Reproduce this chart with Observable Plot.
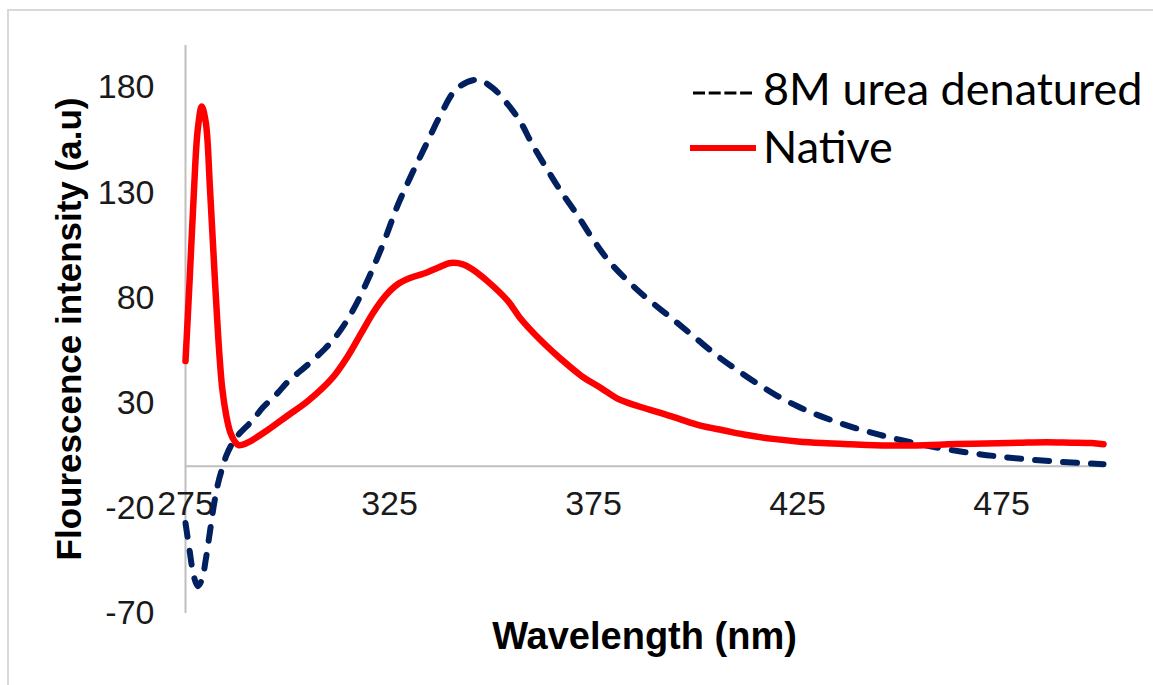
<!DOCTYPE html>
<html>
<head>
<meta charset="utf-8">
<script src="https://cdn.jsdelivr.net/npm/d3@7"></script>
<script src="https://cdn.jsdelivr.net/npm/@observablehq/plot@0.6"></script>
<style>
  html, body { margin: 0; padding: 0; background: #fff; overflow: hidden; width: 1153px; height: 685px; }
  #wrap { position: relative; width: 1153px; height: 685px; overflow: hidden; }
  #border { position: absolute; left: 7px; top: 9px; width: 1200px; height: 800px; border: 2px solid #d9d9d9; }
  #chart { position: absolute; left: 0; top: 0; }
</style>
</head>
<body>
<div id="wrap"><div id="border"></div><div id="chart"></div></div>
<script>
// ---- data ----
const seriesNames = ["8M urea denatured", "Native"];
const xTitle = "Wavelength (nm)";
const yTitle = "Flourescence intensity (a.u)";
const xTicks = [275, 325, 375, 425, 475];
const yTicks = [-70, -20, 30, 80, 130, 180];

const nativeWl = [275,276,277,278,279,280,281,282,283,284,285,286,287,288,
  290,295,300,305,311,315,318,321,324,327,330,334,337,340,343,345,349,354,357,362,
  367,372,377,381,386,391,396,401,407,413,419,425,431,438,444,450,456,462,468,474,
  480,486,492,497,500];
const nativeVal = [50,88,128,160,171,163,132,96,62,37,24,16,12,10,
  11,17,24,31,42,53,63,73,81,86.5,89.5,92,94.5,96.6,96,94,88,78.6,70.5,60,
  51,43,37,32,28.5,25.6,22.5,19.4,17,14.7,13,11.8,11,10.4,10,9.8,10,10.4,10.7,10.9,
  11.2,11.4,11.2,11,10.5];

const denatWl = [275,276,277,278,279,280,281,282,283,284,285,286.5,288,291.5,294,297.5,
  300,303,306,309,312,316,320,323.5,327,330.5,334,337.5,341.5,346.5,350.5,354,357,360,
  363.5,367,371,375,379,384,388,395,400,405,410,415,420,425,430,435,440,445,450,455,
  460,465,470,475,480,485,490,495,500];
const denatVal = [-27,-40,-52,-57,-54,-44,-31,-18,-8,-1,5,11,15,22,28,34.6,
  40,45,50,55.5,62,74,90,106,124,139,153,167,179.5,183.7,179.5,172,164,153,
  141.6,130.7,119.5,107.5,97,87,80,69,61,53,46,39.5,33.5,28.5,24.3,20.8,17.7,15,12.6,10.5,
  8.6,7,5.6,4.5,3.5,2.7,2,1.5,1];

const xDomain = [275, 500];
const yDomain = [-70, 200];

// ---- tables built from the arrays ----
const nativeRows = nativeWl.map((w, i) => ({wl: w, v: nativeVal[i]}));
const denatRows = denatWl.map((w, i) => ({wl: w, v: denatVal[i]}));

const W = 1153, H = 685;
const sans = "'Liberation Sans', Arial, sans-serif";

const chart = Plot.plot({
  width: W, height: H,
  marginLeft: 185, marginRight: 50, marginTop: 45, marginBottom: 72,
  style: {background: "transparent", fontFamily: sans, overflow: "visible"},
  x: {domain: xDomain, axis: null},
  y: {domain: yDomain, axis: null},
  marks: [
    Plot.ruleX([xDomain[0]], {stroke: "#bfbfbf", strokeWidth: 2}),
    Plot.ruleY([0], {stroke: "#bfbfbf", strokeWidth: 2}),
    Plot.axisY(yTicks, {anchor: "left", tickSize: 0, tickPadding: 31, fontSize: 34,
      fill: "#1a1a1a", label: null, tickFormat: d => String(d)}),
    Plot.text(xTicks, {x: d => d, y: 0, dy: 38, fontSize: 34, fill: "#1a1a1a", text: d => String(d)}),
    Plot.line(denatRows, {x: "wl", y: "v", stroke: "#002060", strokeWidth: 6,
      strokeDasharray: "14,14", strokeLinecap: "round", strokeLinejoin: "round", curve: "catmull-rom"}),
    Plot.line(nativeRows, {x: "wl", y: "v", stroke: "#ff0000", strokeWidth: 6.5,
      strokeLinecap: "round", strokeLinejoin: "round", curve: "catmull-rom"}),
    Plot.text([xTitle], {frameAnchor: "bottom", dy: 35, fontSize: 38, fontWeight: "bold", fill: "#000"})
  ]
});
document.getElementById("chart").appendChild(chart);

// ---- overlay: y title and legend ----
const ov = d3.select("#wrap").append("svg")
  .attr("width", W).attr("height", H)
  .style("position", "absolute").style("left", "0px").style("top", "0px");
ov.append("text")
  .attr("transform", "translate(81,329) rotate(-90)")
  .attr("text-anchor", "middle")
  .attr("font-family", sans).attr("font-weight", "bold").attr("font-size", 35).attr("fill", "#000")
  .text(yTitle);
ov.append("line").attr("x1", 693).attr("x2", 752).attr("y1", 93).attr("y2", 93)
  .attr("stroke", "#000").attr("stroke-width", 3).attr("stroke-dasharray", "12,3.7");
ov.append("text").attr("x", 763).attr("y", 105).text(seriesNames[0])
  .attr("font-family", "Lato, 'Open Sans', sans-serif").attr("font-size", 45).attr("fill", "#000");
ov.append("line").attr("x1", 690).attr("x2", 756).attr("y1", 148).attr("y2", 148)
  .attr("stroke", "#ff0000").attr("stroke-width", 6);
ov.append("text").attr("x", 763).attr("y", 163).text(seriesNames[1])
  .attr("font-family", "Lato, 'Open Sans', sans-serif").attr("font-size", 45).attr("fill", "#000");
</script>
</body>
</html>
